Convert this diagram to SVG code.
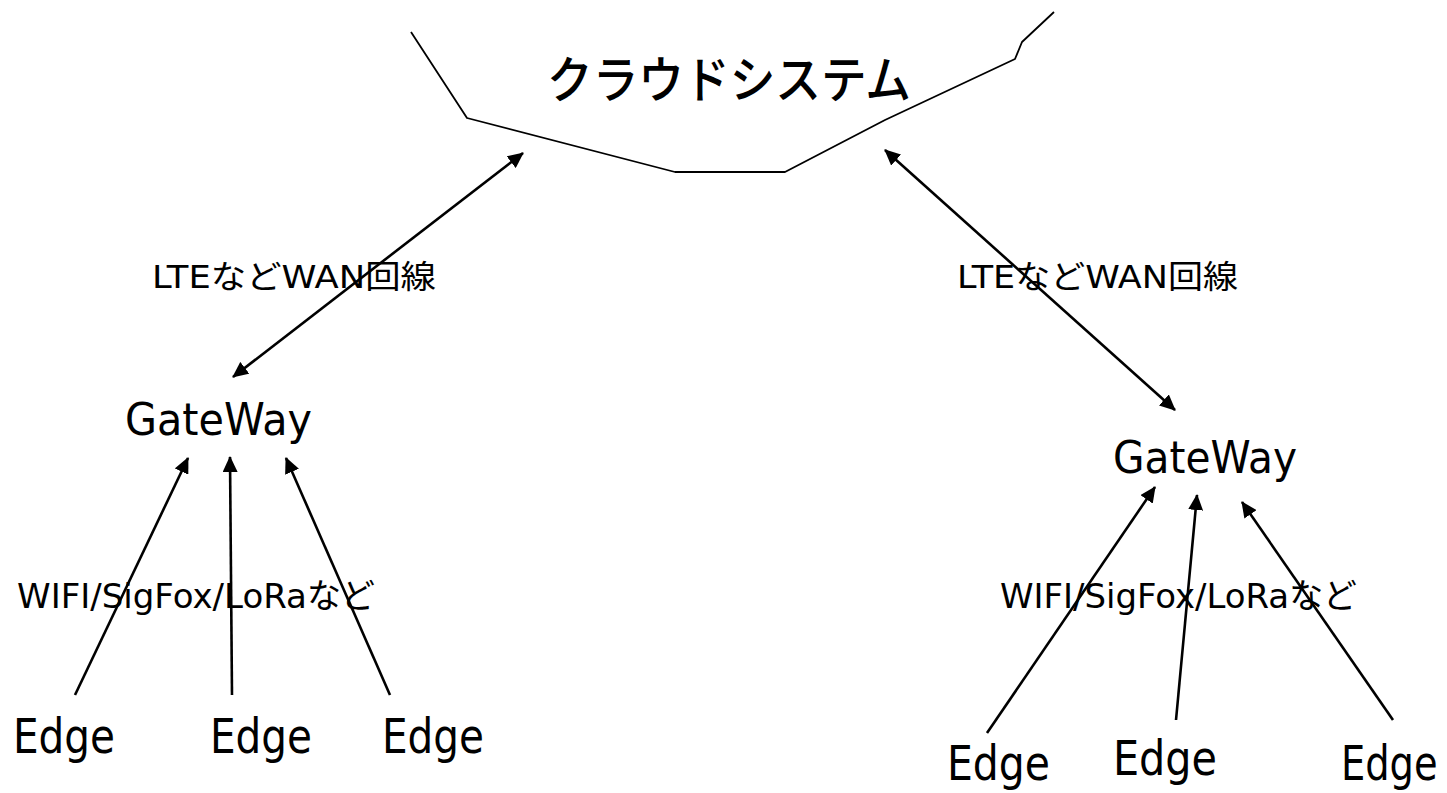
<svg xmlns="http://www.w3.org/2000/svg" width="1447" height="793" viewBox="0 0 1447 793">
  <style>
    .lbl { font-family: "DejaVu Sans", "Noto Sans CJK JP", sans-serif; fill: #000; }
    .gw { font-size: 45px; }
    .edge { font-size: 48px; }
    .wan { font-size: 32px; }
    .radio { font-size: 34px; }
    .cloud { fill: none; stroke: #000; stroke-width: 1.8; stroke-linejoin: round; }
    .link { fill: none; stroke: #000; stroke-width: 2.6; }
    .one { marker-end: url(#head); }
    .two { marker-start: url(#head); marker-end: url(#head); }
  </style>
  <defs>
    <marker id="head" viewBox="0 0 16 15" refX="15" refY="7.5" markerWidth="16" markerHeight="15" markerUnits="userSpaceOnUse" orient="auto-start-reverse">
      <path d="M0,0 L16,7.5 L0,15 Z" fill="#000"/>
    </marker>
  </defs>
  <rect width="1447" height="793" fill="#fff"/>

  <g id="cloud">
    <polyline class="cloud" points="411,32 467,118 675,172 785,172 885,120 1015,59 1022,42 1054,12"/>
    <text class="lbl" x="547" y="98" font-size="50" font-weight="500" textLength="364" lengthAdjust="spacingAndGlyphs">クラウドシステム</text>
  </g>

  <g id="gateway-left">
    <text class="lbl gw" x="125" y="435" textLength="187" lengthAdjust="spacingAndGlyphs">GateWay</text>
  </g>
  <g id="gateway-right">
    <text class="lbl gw" x="1113" y="473" textLength="184" lengthAdjust="spacingAndGlyphs">GateWay</text>
  </g>

  <g id="edge-l1"><text class="lbl edge" x="13" y="753" textLength="102" lengthAdjust="spacingAndGlyphs">Edge</text></g>
  <g id="edge-l2"><text class="lbl edge" x="210" y="753" textLength="102" lengthAdjust="spacingAndGlyphs">Edge</text></g>
  <g id="edge-l3"><text class="lbl edge" x="382" y="753" textLength="102" lengthAdjust="spacingAndGlyphs">Edge</text></g>
  <g id="edge-r1"><text class="lbl edge" x="947" y="780" textLength="103" lengthAdjust="spacingAndGlyphs">Edge</text></g>
  <g id="edge-r2"><text class="lbl edge" x="1113" y="775" textLength="104" lengthAdjust="spacingAndGlyphs">Edge</text></g>
  <!-- horizontally squeezed so the word stays inside the right border -->
  <g id="edge-r3" transform="translate(1341,780) scale(0.8,1)"><text class="lbl edge" x="0" y="0">Edge</text></g>

  <g id="connectors">
    <line class="link two" x1="233" y1="377" x2="523" y2="153"/>
    <line class="link two" x1="885" y1="150" x2="1175" y2="410"/>
    <line class="link one" x1="75" y1="695" x2="188" y2="458"/>
    <line class="link one" x1="232" y1="695" x2="230" y2="457"/>
    <line class="link one" x1="390" y1="695" x2="286" y2="458"/>
    <line class="link one" x1="987" y1="733" x2="1155" y2="487"/>
    <line class="link one" x1="1176" y1="720" x2="1197" y2="495"/>
    <line class="link one" x1="1393" y1="720" x2="1242" y2="502"/>
  </g>

  <g id="labels">
    <text class="lbl wan" x="152" y="288" textLength="284" lengthAdjust="spacingAndGlyphs">LTEなどWAN回線</text>
    <text class="lbl wan" x="957" y="288" textLength="281" lengthAdjust="spacingAndGlyphs">LTEなどWAN回線</text>
    <text class="lbl radio" x="17" y="608" textLength="358" lengthAdjust="spacingAndGlyphs">WIFI/SigFox/LoRaなど</text>
    <text class="lbl radio" x="1000" y="608" textLength="357" lengthAdjust="spacingAndGlyphs">WIFI/SigFox/LoRaなど</text>
  </g>
</svg>
